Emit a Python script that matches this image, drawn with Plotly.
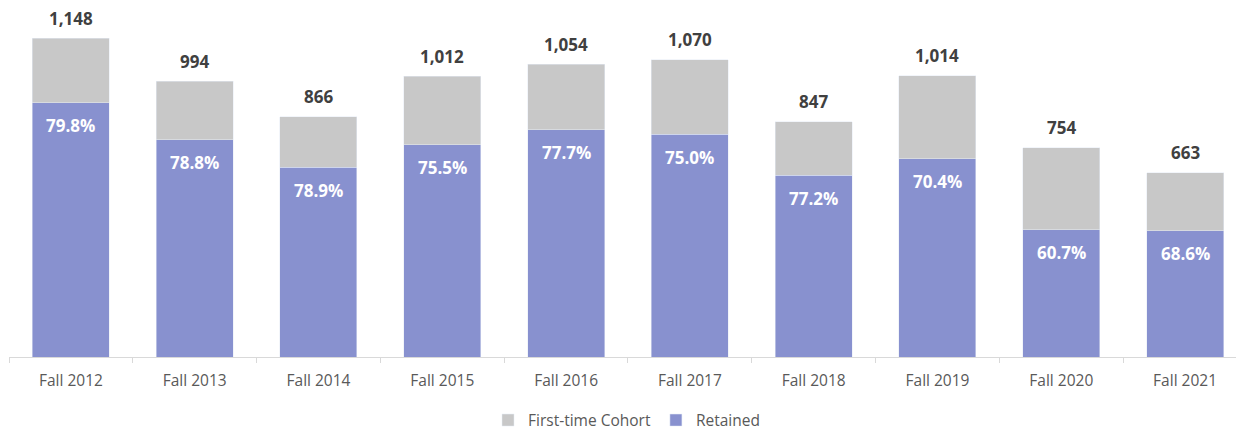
import plotly.graph_objects as go

categories = ["Fall 2012", "Fall 2013", "Fall 2014", "Fall 2015", "Fall 2016",
              "Fall 2017", "Fall 2018", "Fall 2019", "Fall 2020", "Fall 2021"]
cohort_total = [1148, 994, 866, 1012, 1054, 1070, 847, 1014, 754, 663]
retained_pct = [79.8, 78.8, 78.9, 75.5, 77.7, 75.0, 77.2, 70.4, 60.7, 68.6]

retained = [t * p / 100 for t, p in zip(cohort_total, retained_pct)]
not_retained = [t - r for t, r in zip(cohort_total, retained)]

FONT = "Open Sans"
BLUE = "#8891CF"
GRAY = "#C8C8C8"

fig = go.Figure()
fig.add_trace(go.Bar(
    x=categories, y=retained, name="Retained", marker_color=BLUE,
    width=0.622, hoverinfo="skip",
))
fig.add_trace(go.Bar(
    x=categories, y=not_retained, name="First-time Cohort", marker_color=GRAY,
    width=0.622, hoverinfo="skip",
))

annotations = []
for c, t, r, p in zip(categories, cohort_total, retained, retained_pct):
    annotations.append(dict(
        x=c, y=t, text=f"{t:,}", showarrow=False, yanchor="middle", yshift=20,
        font=dict(family=FONT, size=17, color="#404040", weight="bold"),
    ))
    annotations.append(dict(
        x=c, y=r, text=f"{p:.1f}%", showarrow=False, yanchor="middle", yshift=-23,
        font=dict(family=FONT, size=17, color="#FFFFFF", weight="bold"),
    ))

fig.update_layout(
    width=1236, height=422,
    barmode="stack",
    plot_bgcolor="white", paper_bgcolor="white",
    margin=dict(l=1, r=0, t=2, b=73.3, autoexpand=False),
    font=dict(family=FONT, color="#595959"),
    annotations=annotations,
    showlegend=True,
    legend=dict(
        orientation="h", x=0.5, xanchor="center", y=-0.183, yanchor="middle",
        traceorder="reversed",
        font=dict(family=FONT, size=15.5, color="#595959"),
        itemwidth=30,
    ),
    xaxis=dict(
        range=[-0.5, 9.476],
        showline=True, linecolor="#D9D9D9", linewidth=1,
        ticks="outside", tickson="boundaries", tickcolor="#D9D9D9", ticklen=5,
        ticklabelstandoff=9,
        tickfont=dict(family=FONT, size=15.5, color="#595959"),
        showgrid=False, zeroline=False,
    ),
    yaxis=dict(
        range=[0, 1250], visible=False, showgrid=False, zeroline=False,
    ),
)

fig.write_html("out.html")
